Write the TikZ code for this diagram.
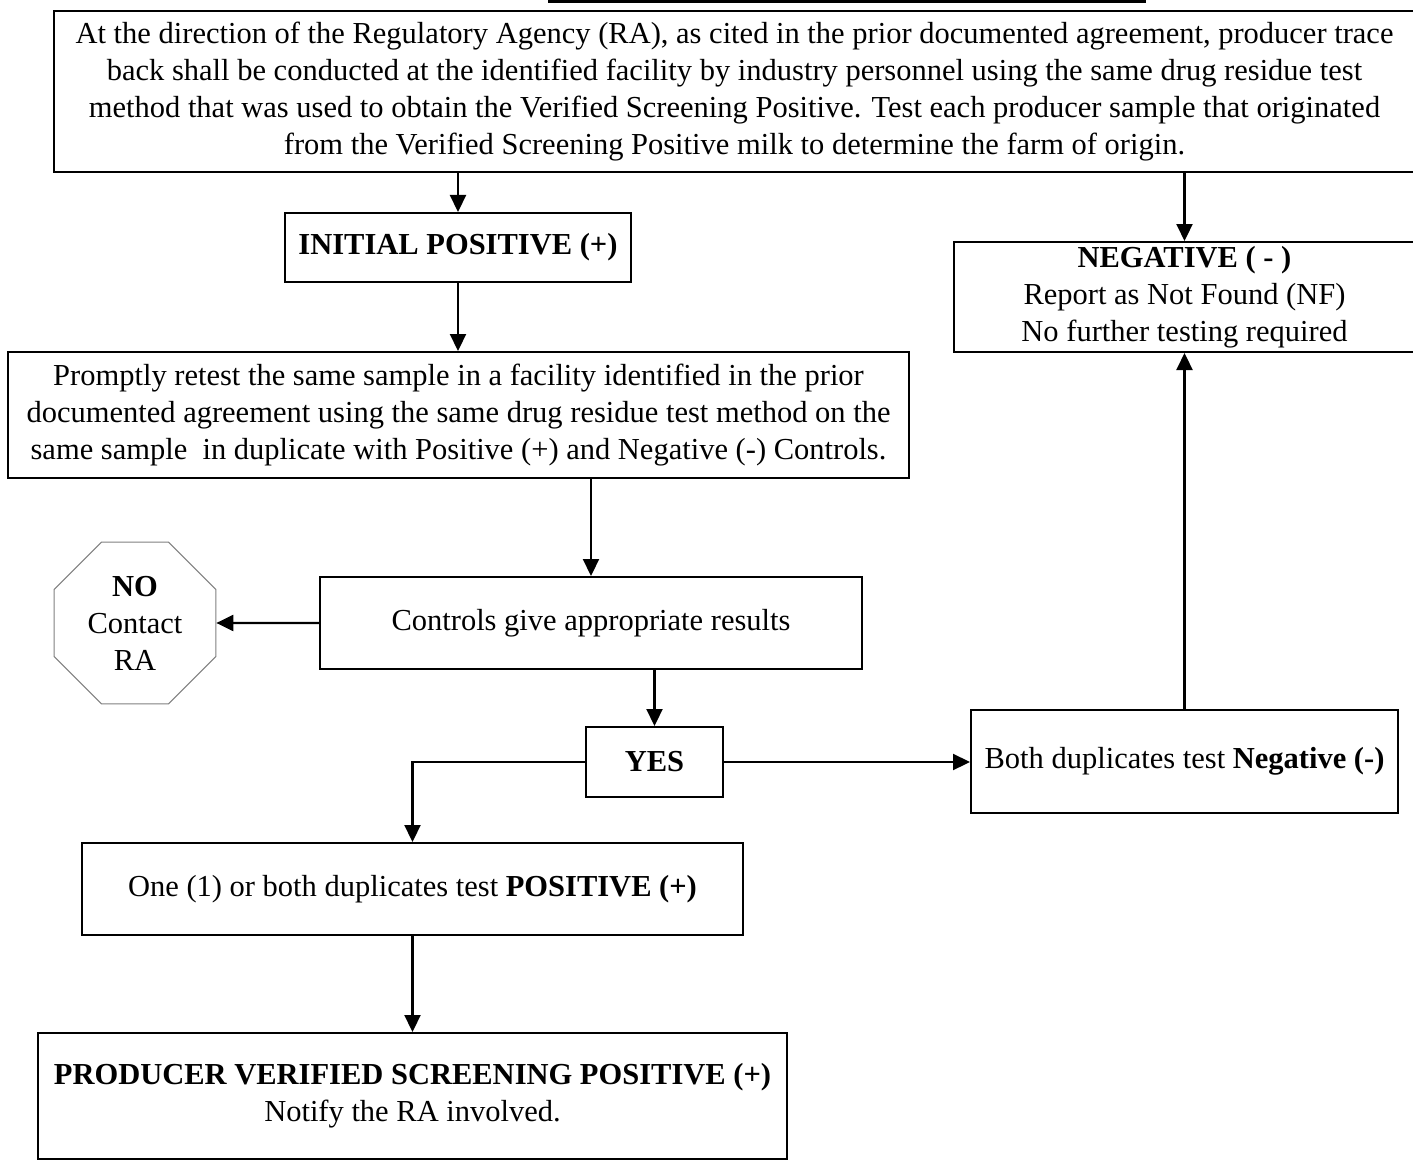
\documentclass[tikz,border=0pt]{standalone}
\usepackage{fontspec}
\setmainfont{Liberation Serif}
\usetikzlibrary{arrows.meta,shapes.geometric}
\begin{document}
\begin{tikzpicture}[x=1pt,y=-1pt,
  box/.style={draw=black,line width=2pt,fill=white,align=center,inner sep=0pt,
    font=\fontsize{30.5}{37}\selectfont},
  arr/.style={line width=2.2pt,-{Triangle[length=17pt,width=16pt]}}]
\clip (0,0) rectangle (1413,1161);
\fill[white] (0,0) rectangle (1413,1161);
\coordinate (barl) at (548,0);
\coordinate (barr) at (1146,0);
\draw[line width=7pt] (barl) -- (barr);
\node[box,minimum width=1361,minimum height=161] (top) at (734.5,91.5)
 {At the direction of the Regulatory Agency (RA), as cited in the prior documented agreement, producer trace\\
  back shall be conducted at the identified facility by industry personnel using the same drug residue test\\
  method that was used to obtain the Verified Screening Positive. Test each producer sample that originated\\
  from the Verified Screening Positive milk to determine the farm of origin.};
\node[box,minimum width=346,minimum height=69] (init) at (458,247.5) {\textbf{INITIAL POSITIVE (+)}};
\node[box,minimum width=901,minimum height=126] (prom) at (458.5,415)
 {Promptly retest the same sample in a facility identified in the prior\\
  documented agreement using the same drug residue test method on the\\
  same sample\ \ in duplicate with Positive (+) and Negative (-) Controls.};
\node[box,minimum width=542,minimum height=92] (ctrl) at (591,623) {Controls give appropriate results};
\node[box,draw=gray,line width=1pt,regular polygon,regular polygon sides=8,minimum size=175pt] (oct) at (135,623)
 {\textbf{NO}\\Contact\\RA};
\node[box,minimum width=137,minimum height=70] (yes) at (654.5,762) {\textbf{YES}};
\node[box,minimum width=427,minimum height=103] (both) at (1184.5,761.5) {Both duplicates test \textbf{Negative (-)}};
\node[box,minimum width=461,minimum height=110] (neg) at (1184.5,297)
 {\textbf{NEGATIVE ( - )}\\Report as Not Found (NF)\\No further testing required};
\node[box,minimum width=661,minimum height=92] (one) at (412.5,889) {One (1) or both duplicates test \textbf{POSITIVE (+)}};
\node[box,minimum width=749,minimum height=126] (prod) at (412.5,1096)
 {\textbf{PRODUCER VERIFIED SCREENING POSITIVE (+)}\\Notify the RA involved.};
\draw[arr] (init.north |- top.south) -- (init.north);
\draw[arr] (neg.north |- top.south) -- (neg.north);
\draw[arr] (init.south) -- (prom.north -| init.south);
\draw[arr] (ctrl.north |- prom.south) -- (ctrl.north);
\draw[arr] (ctrl.west) -- (oct.east);
\draw[arr] (yes.north |- ctrl.south) -- (yes.north);
\draw[arr] (yes.west) -| (one.north);
\draw[arr] (yes.east) -- (both.west |- yes.east);
\draw[arr] (both.north) -- (neg.south);
\draw[arr] (one.south) -- (prod.north);
\end{tikzpicture}
\end{document}
